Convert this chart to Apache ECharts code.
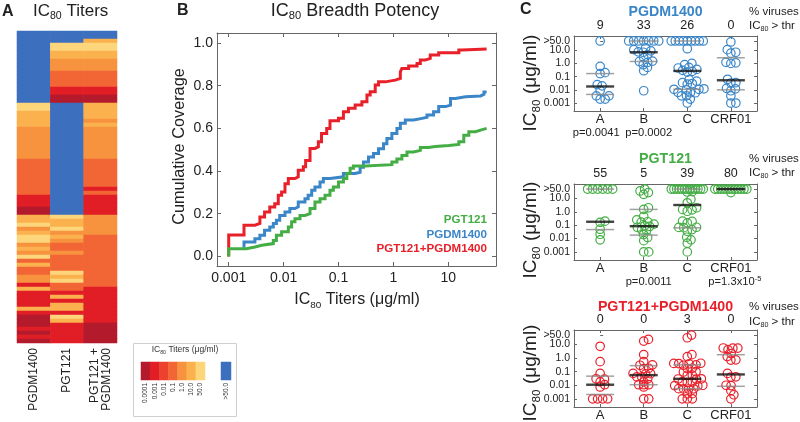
<!DOCTYPE html>
<html><head><meta charset="utf-8">
<script src="https://cdn.jsdelivr.net/npm/echarts@6/dist/echarts.min.js"></script>
<style>html,body{margin:0;padding:0;background:#fff}#c{width:800px;height:422px}</style>
</head><body><div id="c"></div>
<script>
const FONT = '"Liberation Sans", Arial, Helvetica, sans-serif';

// ---------- Panel A: IC80 heatmap (bin index per virus row; 7 = >50) ----------
const heatColumns = ['PGDM1400', 'PGT121', 'PGT121 +\nPGDM1400'];
const heatPGDM1400 = [7,7,7,7,7,7,7,7,7,7,7,7,7,7,7,7,7,7,
  6,6,5,5,5,5,4,4,4,4,4,4,4,4,3,3,3,3,3,3,3,3,3,1,1,1,0,0,
  5,5,6,4,5,6,6,4,5,4,6,3,5,3,3,4,4,1,5,1,1,1,1,5,1,0,0,0,1,0,1,0];
const heatPGT121 = [7,7,7,6,6,5,5,4,4,4,3,3,3,3,1,1,0,0,
  7,7,7,7,7,7,7,7,7,7,7,7,7,7,7,7,7,7,7,7,7,7,7,7,7,7,7,7,
  6,5,5,6,4,5,4,3,3,4,3,3,3,3,6,5,6,3,3,1,5,1,5,5,1,6,5,1,1,1,1,1];
const heatCombo = [7,7,5,6,6,5,5,4,4,4,3,3,3,3,1,1,0,0,
  5,5,5,5,4,5,4,4,4,4,4,4,4,4,3,3,3,3,3,3,3,1,3,1,1,1,1,1,
  4,4,4,4,4,3,3,3,3,3,3,3,3,3,3,3,3,3,1,1,1,1,1,1,1,1,1,0,0,0,0,0];
const colorBins = ['0.0001','0.001','0.01','0.1','1.0','10.0','50.0'];
const resistantBin = ['>50.0'];
const binColors = ['#b31b2c','#e11d26','#ec412d','#f26535','#f7923f','#fbb24e','#fdd67b','#3c6fbe'];

// ---------- Panel B: cumulative coverage step curves [IC80 titer, coverage] ----------
const coverageCombo = [[0.001,0],[0.001,0.10],[0.0019,0.146],[0.0030,0.154],[0.0037,0.185],[0.0045,0.208],[0.0056,0.232],[0.0069,0.247],[0.0080,0.286],[0.0092,0.302],[0.0106,0.341],[0.0122,0.365],[0.0161,0.373],[0.0185,0.404],[0.0229,0.42],[0.0252,0.45],[0.0303,0.506],[0.0373,0.514],[0.043,0.537],[0.049,0.576],[0.061,0.60],[0.070,0.636],[0.100,0.647],[0.123,0.678],[0.152,0.694],[0.201,0.709],[0.267,0.725],[0.33,0.756],[0.378,0.772],[0.467,0.803],[0.537,0.818],[0.71,0.826],[1.08,0.834],[1.34,0.865],[1.43,0.881],[1.9,0.892],[2.7,0.904],[3.1,0.92],[3.8,0.928],[4.7,0.944],[6.7,0.955],[15.6,0.967],[18,0.972],[50,0.972]];
const coveragePGDM1400 = [[0.0019,0.04],[0.0019,0.068],[0.0030,0.083],[0.0037,0.099],[0.0045,0.122],[0.0056,0.138],[0.0065,0.154],[0.0074,0.169],[0.0085,0.192],[0.0106,0.208],[0.013,0.224],[0.0161,0.232],[0.0185,0.255],[0.0245,0.27],[0.028,0.286],[0.0325,0.31],[0.0373,0.325],[0.0461,0.349],[0.053,0.365],[0.070,0.373],[0.123,0.389],[0.201,0.394],[0.248,0.418],[0.286,0.442],[0.352,0.466],[0.435,0.482],[0.537,0.505],[0.662,0.528],[0.762,0.552],[0.94,0.576],[1.16,0.60],[1.34,0.624],[1.65,0.639],[2.34,0.647],[3.33,0.652],[4.1,0.663],[5.4,0.678],[6.7,0.702],[8.9,0.709],[11,0.74],[13.5,0.748],[20.6,0.752],[38.8,0.76],[44.7,0.771],[50,0.771]];
const coveragePGT121 = [[0.001,0],[0.001,0.036],[0.0021,0.044],[0.0030,0.052],[0.0040,0.06],[0.0065,0.075],[0.0074,0.099],[0.0092,0.115],[0.0122,0.138],[0.014,0.162],[0.0161,0.177],[0.0199,0.192],[0.0245,0.20],[0.0303,0.224],[0.0373,0.255],[0.0461,0.27],[0.0569,0.286],[0.070,0.31],[0.0807,0.325],[0.100,0.349],[0.123,0.365],[0.142,0.389],[0.163,0.413],[0.187,0.424],[0.306,0.43],[0.94,0.442],[1.16,0.457],[1.43,0.473],[1.77,0.489],[2.34,0.497],[3.1,0.51],[4.4,0.515],[5.8,0.52],[10.2,0.525],[15.6,0.537],[19.2,0.568],[23.7,0.584],[31.4,0.592],[38.8,0.60],[50,0.60]];

// ---------- Panel C: IC80 per clade (>50 plotted at 50) ----------
const clades = ['A','B','C','CRF01'];
const yTickValues = [0.001, 0.01, 0.1, 1, 10];
const yTickLabels = ['0.001','0.01','0.1','1.0','10.0'];
const thrTickValue = [50];
const thrTickLabel = '>50.0';

const pgdmA = [50,0.6,0.2,0.17,0.025,0.02,0.009,0.0035,0.0035,0.002,0.002];
const pgdmB = [50,50,50,50,50,50,50,15,11,9,7.5,7,4.6,2.7,1.5,1.4,1.2,0.8,0.5,0.28,0.0085];
const pgdmC = [50,50,50,50,50,50,50,50,50,13,1.0,0.8,0.5,0.45,0.35,0.3,0.25,0.22,0.06,0.045,0.035,0.03,0.027,0.012,0.011,0.011,0.01,0.0065,0.006,0.006,0.0035,0.0035,0.002,0.001];
const pgdmCRF01 = [42,11,7,6,1.2,1.1,1.0,0.063,0.035,0.033,0.013,0.012,0.0085,0.0035,0.001,0.001];
const pgdmMedian = [0.018, 7, 0.27, 0.053];
const pgdmLow = [0.0045, 1.4, 0.011, 0.01];
const pgdmHigh = [0.17, 50, 50, 2.7];
const pgdmPct = ['9','33','26','0'];
const pgdmP = ['p=0.0041','p=0.0002','',''];

const pgtA = [50,50,50,50,50,50,0.2,0.16,0.05,0.021,0.008];
const pgtB = [50,36,27,20,2.0,1.5,0.45,0.25,0.18,0.17,0.12,0.09,0.08,0.07,0.045,0.04,0.02,0.012,0.007,0.001,0.001];
const pgtC = [50,50,50,50,50,50,50,50,50,50,50,50,50,32,30,8.5,4.7,2.0,1.5,1.4,1.1,0.2,0.19,0.15,0.07,0.068,0.065,0.047,0.035,0.0125,0.008,0.0045,0.001];
const pgtCRF01 = [50,50,50,50,50,50,50,50,50,50,50,50,27];
const pgtMedian = [0.18, 0.084, 3.2, 50];
const pgtLow = [0.047, 0.018, 0.063, 50];
const pgtHigh = [50, 1.5, 50, 50];
const pgtPct = ['55','5','39','80'];
const pgtP = ['','p=0.0011','','p=1.3x10^-5'];

const comboA = [7.5,0.55,0.075,0.03,0.028,0.018,0.011,0.0075,0.001,0.001,0.001,0.001];
const comboB = [24,18,1.8,0.56,0.32,0.3,0.18,0.17,0.075,0.072,0.07,0.042,0.04,0.03,0.018,0.011,0.011,0.011,0.0075,0.001,0.001];
const comboC = [50,32,1.8,1.3,0.42,0.41,0.4,0.38,0.32,0.3,0.18,0.17,0.1,0.095,0.056,0.055,0.03,0.029,0.028,0.018,0.017,0.016,0.01,0.0095,0.009,0.0056,0.0055,0.0054,0.0053,0.0024,0.0023,0.001,0.001,0.001];
const comboCRF01 = [5.6,5.5,5.4,4.3,2.2,1.3,0.75,0.72,0.075,0.042,0.04,0.01,0.0095,0.004,0.002,0.001];
const comboMedian = [0.011, 0.056, 0.03, 0.063];
const comboLow = [0.0021, 0.011, 0.0056, 0.0084];
const comboHigh = [0.047, 0.28, 0.32, 1.8];
const comboPct = ['0','0','3','0'];
const comboP = ['','','',''];

// ---------- colours ----------
const RED = '#e8202a', BLUE = '#3a86c8', GREEN = '#45ad45';

// ---------- beeswarm layout (pixel space -> axis units) ----------
const C_LEFT = 574, C_WIDTH = 183, C_MIN = -0.6, C_MAX = 3.6;
const PX_PER_UNIT = C_WIDTH / (C_MAX - C_MIN), PX_PER_DEC = 13.3;
function swarmOffsets(values, d = 5, maxHalf = 16) {
  const ys = values.map(v => Math.log10(v) * PX_PER_DEC);
  const xs = new Array(values.length);
  const counts = {};
  values.forEach(v => counts[v] = (counts[v] || 0) + 1);
  const handled = new Set();
  Object.keys(counts).forEach(k => {
    const n = counts[k]; if (n < 3) return;
    const sp = Math.min(d, 2 * maxHalf / (n - 1));
    let c = 0;
    values.forEach((v, i) => { if (String(v) === k) { xs[i] = (c - (n - 1) / 2) * sp; handled.add(i); c++; } });
  });
  const placed = [];
  const order = values.map((v, i) => i).filter(i => !handled.has(i)).sort((a, b) => ys[a] - ys[b]);
  order.forEach(i => {
    const y = ys[i];
    const cands = [0];
    placed.forEach(p => { const dy = Math.abs(p.y - y); if (dy < d) { const dx = Math.sqrt(d * d - dy * dy); cands.push(p.x + dx, p.x - dx); } });
    cands.sort((a, b) => Math.abs(a) - Math.abs(b));
    const best = cands.find(c => placed.every(p => (p.x - c) ** 2 + (p.y - y) ** 2 >= d * d - 1e-6));
    xs[i] = best; placed.push({ x: best, y });
  });
  return xs.map(x => x / PX_PER_UNIT);
}

// ---------- helpers ----------
function subRich(fs, color, bold) {
  return {
    m: { fontSize: fs, lineHeight: fs + 3, fill: color, color: color, fontFamily: FONT, fontWeight: bold ? 'bold' : 'normal' },
    s: { fontSize: fs * 0.62, lineHeight: fs * 0.62, padding: [fs * 0.6, 0, 0, 0], fill: color, color: color, fontFamily: FONT, fontWeight: bold ? 'bold' : 'normal' }
  };
}
function gText(x, y, text, o) {
  o = o || {};
  return {
    type: 'text', x: x, y: y, rotation: o.rot || 0, silent: true,
    style: Object.assign({ text: text, fontFamily: FONT, fontSize: o.fs || 12, fill: o.color || '#222',
      fontWeight: o.bold ? 'bold' : 'normal', align: o.align || 'center', verticalAlign: 'middle' }, o.style || {})
  };
}
function pRich(s) {
  const k = s.indexOf('^');
  return k < 0 ? '{p|' + s + '}' : '{p|' + s.slice(0, k) + '}{sup|' + s.slice(k + 1) + '}';
}
const pRichStyle = { p: { fontSize: 11.2, fill: '#222', lineHeight: 13, fontFamily: FONT },
  sup: { fontSize: 7.5, fill: '#222', lineHeight: 8, padding: [0, 0, 7, 0], fontFamily: FONT } };

const heatRows = heatPGDM1400.map((_, i) => String(i));
const heatData = [];
[heatPGDM1400, heatPGT121, heatCombo].forEach((col, c) => col.forEach((b, r) => heatData.push([c, r, b])));

const grids = [
  { left: 17, top: 31, width: 100, height: 312 },
  { left: 141, top: 362, width: 64, height: 18 },
  { left: 221, top: 362, width: 10, height: 18 },
  { left: 217, top: 33, width: 279, height: 233 }
];
const xAxes = [
  { gridIndex: 0, type: 'category', data: heatColumns, axisLine: { show: false }, axisTick: { show: false },
    axisLabel: { rotate: 90, fontSize: 12, margin: 5, color: '#222', interval: 0, lineHeight: 12, fontFamily: FONT } },
  { gridIndex: 1, type: 'category', data: colorBins, axisLine: { show: false }, axisTick: { show: false },
    axisLabel: { rotate: 90, fontSize: 6.5, margin: 3, color: '#333', interval: 0, fontFamily: FONT } },
  { gridIndex: 2, type: 'category', data: resistantBin, axisLine: { show: false }, axisTick: { show: false },
    axisLabel: { rotate: 90, fontSize: 6.5, margin: 3, color: '#333', interval: 0, fontFamily: FONT } },
  { gridIndex: 3, type: 'log', logBase: 10, min: 0.000612, max: 74.1, position: 'bottom',
    axisLine: { onZero: false, lineStyle: { color: '#666' } }, splitLine: { show: false },
    axisTick: { inside: true, length: 4, lineStyle: { color: '#666' } },
    axisLabel: { fontSize: 14, color: '#222', margin: 5, showMinLabel: false, showMaxLabel: false, fontFamily: FONT,
      formatter: v => String(parseFloat(Number(v).toPrecision(3))) } },
  { gridIndex: 3, type: 'log', logBase: 10, min: 0.000612, max: 74.1, position: 'top',
    axisLine: { onZero: false, lineStyle: { color: '#666' } }, splitLine: { show: false },
    axisTick: { inside: true, length: 4, lineStyle: { color: '#666' } }, axisLabel: { show: false } }
];
const covTicks = [0, 0.2, 0.4, 0.6, 0.8, 1.0];
const yAxes = [
  { gridIndex: 0, type: 'category', data: heatRows, inverse: true, show: false },
  { gridIndex: 1, type: 'category', data: ['k'], show: false },
  { gridIndex: 2, type: 'category', data: ['k'], show: false },
  { gridIndex: 3, type: 'value', min: -0.045, max: 1.047, position: 'left',
    axisLine: { show: true, onZero: false, lineStyle: { color: '#666' } }, splitLine: { show: false },
    axisTick: { inside: true, length: 4, customValues: covTicks, lineStyle: { color: '#666' } },
    axisLabel: { fontSize: 14, color: '#222', margin: 4, customValues: covTicks, showMinLabel: true, showMaxLabel: true, fontFamily: FONT, formatter: v => Number(v).toFixed(1) } },
  { gridIndex: 3, type: 'value', min: -0.045, max: 1.047, position: 'right',
    axisLine: { show: true, onZero: false, lineStyle: { color: '#666' } }, splitLine: { show: false },
    axisTick: { inside: true, length: 4, customValues: covTicks, lineStyle: { color: '#666' } }, axisLabel: { show: false } }
];

const stepLine = (data, color) => ({ type: 'line', step: 'end', xAxisIndex: 3, yAxisIndex: 3, data: data,
  showSymbol: false, symbol: 'none', lineStyle: { color: color, width: 3, join: 'miter' }, color: color, silent: true });
const series = [
  { type: 'heatmap', xAxisIndex: 0, yAxisIndex: 0, data: heatData, itemStyle: { borderWidth: 0 }, silent: true },
  { type: 'heatmap', xAxisIndex: 1, yAxisIndex: 1, data: colorBins.map((b, i) => [i, 0, i]), silent: true },
  { type: 'heatmap', xAxisIndex: 2, yAxisIndex: 2, data: [[0, 0, 7]], silent: true },
  stepLine(coverageCombo, RED),
  stepLine(coveragePGDM1400, BLUE),
  stepLine(coveragePGT121, GREEN)
];

const cPanels = [
  { title: 'PGDM1400', color: BLUE, sets: [pgdmA, pgdmB, pgdmC, pgdmCRF01], med: pgdmMedian, lo: pgdmLow, hi: pgdmHigh, pct: pgdmPct, p: pgdmP, top: 36, height: 75, titleY: 12, thrY: 26, ylabY: 83 },
  { title: 'PGT121', color: GREEN, sets: [pgtA, pgtB, pgtC, pgtCRF01], med: pgtMedian, lo: pgtLow, hi: pgtHigh, pct: pgtPct, p: pgtP, top: 184, height: 76, titleY: 159, thrY: 173, ylabY: 230 },
  { title: 'PGT121+PGDM1400', color: RED, sets: [comboA, comboB, comboC, comboCRF01], med: comboMedian, lo: comboLow, hi: comboHigh, pct: comboPct, p: comboP, top: 330, height: 78, titleY: 307, thrY: 322, ylabY: 373 }
];
const catIdx = [0, 1, 2, 3];
const pNudge = [-4, 5, 0, 4];
const graphicEls = [];
const yfmt = v => { const j = yTickValues.findIndex(t => Math.abs(Math.log10(t) - Math.log10(v)) < 0.01); return j >= 0 ? yTickLabels[j] : ''; };
cPanels.forEach((pn, k) => {
  const g = grids.length;
  grids.push({ left: C_LEFT, top: pn.top, width: C_WIDTH, height: pn.height });
  const xi = xAxes.length, yi = yAxes.length;
  const frame = { onZero: false, lineStyle: { color: '#666' } };
  xAxes.push({ gridIndex: g, type: 'value', min: C_MIN, max: C_MAX, position: 'bottom', axisLine: frame, splitLine: { show: false },
    axisTick: { inside: true, length: 3, customValues: catIdx, lineStyle: { color: '#666' } },
    axisLabel: { customValues: catIdx, showMinLabel: true, showMaxLabel: true, fontSize: 13, color: '#222', margin: 2, fontFamily: FONT,
      formatter: v => clades[Math.round(v)] } });
  xAxes.push({ gridIndex: g, type: 'value', min: C_MIN, max: C_MAX, position: 'top', axisLine: frame, splitLine: { show: false },
    axisTick: { inside: true, length: 3, customValues: catIdx, lineStyle: { color: '#666' } },
    axisLabel: { customValues: catIdx, showMinLabel: true, showMaxLabel: true, fontSize: 12.5, color: '#222', margin: 4, fontFamily: FONT, formatter: v => pn.pct[Math.round(v)] } });
  const axLine = { show: true, onZero: false, lineStyle: { color: '#666' } };
  yAxes.push({ gridIndex: g, type: 'log', logBase: 10, min: 0.00025, max: 119, position: 'left', axisLine: axLine, splitLine: { show: false },
    axisTick: { inside: true, length: 3, customValues: yTickValues, lineStyle: { color: '#666' } },
    axisLabel: { customValues: yTickValues, showMinLabel: true, showMaxLabel: true, fontSize: 10.5, color: '#222', margin: 4, fontFamily: FONT, formatter: yfmt } });
  yAxes.push({ gridIndex: g, type: 'log', logBase: 10, min: 0.00025, max: 119, position: 'left', offset: 0, axisLine: { show: false }, splitLine: { show: false },
    axisTick: { inside: true, length: 3, customValues: thrTickValue, lineStyle: { color: '#666' } },
    axisLabel: { customValues: thrTickValue, showMinLabel: true, showMaxLabel: true, fontSize: 10.5, color: '#222', margin: 4, fontFamily: FONT, formatter: () => thrTickLabel } });
  yAxes.push({ gridIndex: g, type: 'log', logBase: 10, min: 0.00025, max: 119, position: 'right', axisLine: axLine, splitLine: { show: false },
    axisTick: { inside: true, length: 3, customValues: yTickValues.concat(thrTickValue), lineStyle: { color: '#666' } }, axisLabel: { show: false } });
  const pts = [];
  pn.sets.forEach((vals, j) => { const off = swarmOffsets(vals); vals.forEach((v, i) => pts.push([j + off[i], v])); });
  series.push({ type: 'scatter', xAxisIndex: xi, yAxisIndex: yi, data: pts, symbol: 'circle', symbolSize: 8.5, silent: true,
    itemStyle: { color: 'rgba(255,255,255,0)', borderColor: pn.color, borderWidth: 1.2, opacity: 1 }, z: 3 });
  series.push({ type: 'scatter', xAxisIndex: xi, yAxisIndex: yi, data: pn.lo.map((v, j) => [j, v]).concat(pn.hi.map((v, j) => [j, v])),
    symbol: 'rect', symbolSize: [28, 1.5], silent: true, itemStyle: { color: '#8a8a8a' }, z: 4 });
  series.push({ type: 'scatter', xAxisIndex: xi, yAxisIndex: yi, data: pn.med.map((v, j) => [j, v]),
    symbol: 'rect', symbolSize: [28, 2.4], silent: true, itemStyle: { color: '#111' }, z: 5 });
  graphicEls.push(gText(665.5, pn.titleY, pn.title, { fs: 14.2, bold: true, color: pn.color }));
  graphicEls.push(gText(749, pn.titleY, '% viruses', { fs: 11.5, align: 'left' }));
  graphicEls.push(gText(749, pn.thrY, '{m|IC}{s|80}{m| > thr}', { align: 'left', style: { rich: subRich(11.5, '#222') } }));
  graphicEls.push(gText(531, pn.ylabY, '{m|IC}{s|80}{m| (μg/ml)}', { rot: Math.PI / 2, style: { rich: subRich(19, '#222') } }));
  pn.p.forEach((s, i) => {
    if (!s) return;
    const cx = C_LEFT + (i - C_MIN) * PX_PER_UNIT + pNudge[i];
    graphicEls.push(gText(cx, pn.top + pn.height + 22, pRich(s), { style: { rich: pRichStyle } }));
  });
});

graphicEls.push(
  gText(2, 11.5, 'A', { fs: 16, bold: true, align: 'left' }),
  gText(33, 11.5, '{m|IC}{s|80}{m| Titers}', { align: 'left', style: { rich: subRich(17, '#222') } }),
  gText(177, 11, 'B', { fs: 16, bold: true, align: 'left' }),
  gText(355, 11, '{m|IC}{s|80}{m| Breadth Potency}', { style: { rich: subRich(18, '#222') } }),
  gText(520, 9.5, 'C', { fs: 16, bold: true, align: 'left' }),
  gText(357, 300, '{m|IC}{s|80}{m| Titers (μg/ml)}', { style: { rich: subRich(16, '#222') } }),
  gText(180, 146.5, 'Cumulative Coverage', { fs: 16.3, rot: Math.PI / 2 }),
  gText(487, 220, 'PGT121', { fs: 11.6, bold: true, color: GREEN, align: 'right' }),
  gText(487, 234.5, 'PGDM1400', { fs: 11.6, bold: true, color: BLUE, align: 'right' }),
  gText(487, 249, 'PGT121+PGDM1400', { fs: 11.6, bold: true, color: RED, align: 'right' }),
  { type: 'rect', silent: true, shape: { x: 133.5, y: 343.5, width: 103, height: 73 }, style: { fill: 'none', stroke: '#cfcfcf', lineWidth: 1 } },
  gText(185, 350, '{m|IC}{s|80}{m| Titers (μg/ml)}', { style: { rich: subRich(8.5, '#333') } })
);

const option = {
  animation: false,
  backgroundColor: '#fff',
  textStyle: { fontFamily: FONT },
  visualMap: { type: 'piecewise', show: false, dimension: 2, seriesIndex: [0, 1, 2],
    pieces: binColors.map((c, i) => ({ value: i, color: c })) },
  grid: grids,
  xAxis: xAxes,
  yAxis: yAxes,
  series: series,
  graphic: { elements: graphicEls }
};
const chart = echarts.init(document.getElementById('c'));
chart.setOption(option);
</script>
</body></html>
